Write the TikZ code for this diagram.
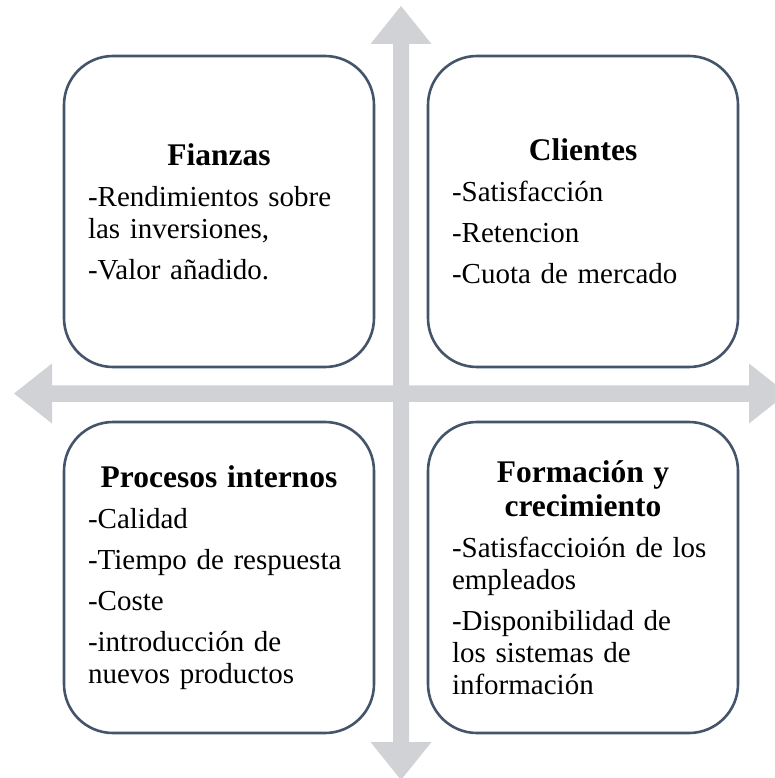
\documentclass[tikz,border=0pt]{standalone}
\usepackage{fontspec}
\setmainfont{Liberation Serif}
\usetikzlibrary{positioning}

\definecolor{framecol}{RGB}{68,84,106}
\definecolor{axiscol}{RGB}{208,210,214}

\newcommand{\quadtitle}[1]{{\centering\bfseries\fontsize{31.5}{34}\selectfont #1\par}}

\begin{document}
\begin{tikzpicture}[x=1pt, y=-1pt,
  quadrant/.style={draw=framecol, line width=2.6pt, rounded corners=49pt, fill=white,
    minimum width=310pt, minimum height=311pt, inner sep=0pt},
  boxtext/.style={text width=262pt, align=left, inner sep=0pt,
    font=\fontsize{29}{32}\selectfont,
    execute at begin node={\setlength{\parskip}{9pt}}}]
\clip (0,0) rectangle (775,778);

% cross of block arrows
\fill[axiscol] (401,6) -- (431.5,44) -- (409,44) -- (409,742) -- (431.5,742) -- (401,780)
  -- (370.5,742) -- (393,742) -- (393,44) -- (370.5,44) -- cycle;
\fill[axiscol] (14,393.5) -- (52,363.5) -- (52,385.25) -- (749,385.25) -- (749,363.5) -- (787,393.5)
  -- (749,423.5) -- (749,401.75) -- (52,401.75) -- (52,423.5) -- cycle;

% the four quadrants
\node[quadrant] (fianzas) at (219,211.5) {};
\node[quadrant, right=51.4pt of fianzas] (clientes) {};
\node[quadrant, below=52.4pt of fianzas] (procesos) {};
\node[quadrant, right=51.4pt of procesos] (formacion) {};

\node[boxtext] (fianzas_txt) at (fianzas.center) {\quadtitle{Fianzas}
-Rendimientos sobre\\las inversiones,\par
-Valor añadido.};
\node[boxtext] (clientes_txt) at (clientes.center) {\quadtitle{Clientes}
-Satisfacción\par
-Retencion\par
-Cuota de mercado};
\node[boxtext] (procesos_txt) at (procesos.center) {\quadtitle{Procesos internos}
-Calidad\par
-Tiempo de respuesta\par
-Coste\par
-introducción de\\nuevos productos};
\node[boxtext] (formacion_txt) at (formacion.center) {\quadtitle{Formación y\\crecimiento}
-Satisfaccioión de los\\empleados\par
-Disponibilidad de\\los sistemas de\\información};
\end{tikzpicture}
\end{document}
